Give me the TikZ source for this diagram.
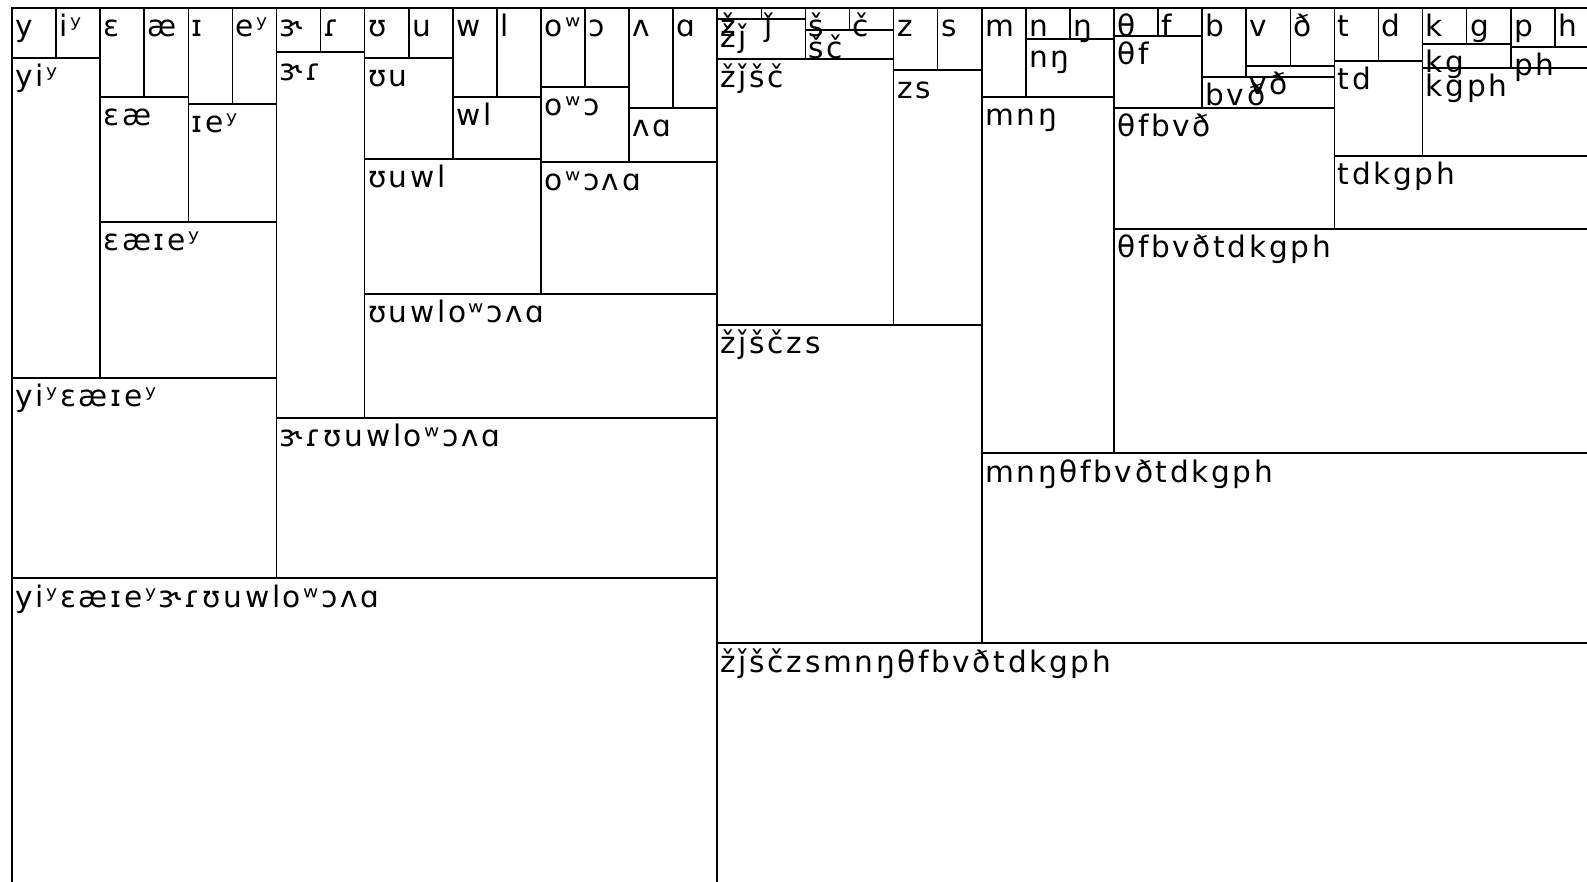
\documentclass[tikz,border=0pt]{standalone}
\usepackage{fontspec}
\newfontfamily\ipafont[LetterSpace=9]{DejaVu Sans}
\newcommand\dendbox[6]{%
  \draw[boxline] ({12+44.08*#2},#4) rectangle ({12+44.08*#3},#5);
  \node[lbl] (#1) at ({15+44.08*#2},#4+29) {#6};
}
\begin{document}
\begin{tikzpicture}[x=0.5pt,y=-0.5pt,
  boxline/.style={line width=0.8pt, black},
  lbl/.style={anchor=base west, inner sep=0pt, font=\ipafont\fontsize{14.8}{16}\selectfont}]
\useasboundingbox (0,0) rectangle (1587,882);
\clip (0,0) rectangle (1587,882);
% leaves
\dendbox{l0}{0}{1}{8}{58}{y}
\dendbox{l1}{1}{2}{8}{58}{iʸ}
\dendbox{l2}{2}{3}{8}{97}{ɛ}
\dendbox{l3}{3}{4}{8}{97}{æ}
\dendbox{l4}{4}{5}{8}{104}{ɪ}
\dendbox{l5}{5}{6}{8}{104}{eʸ}
\dendbox{l6}{6}{7}{8}{52}{ɝ}
\dendbox{l7}{7}{8}{8}{52}{ɾ}
\dendbox{l8}{8}{9}{8}{58}{ʊ}
\dendbox{l9}{9}{10}{8}{58}{u}
\dendbox{l10}{10}{11}{8}{97}{w}
\dendbox{l11}{11}{12}{8}{97}{l}
\dendbox{l12}{12}{13}{8}{87}{oʷ}
\dendbox{l13}{13}{14}{8}{87}{ɔ}
\dendbox{l14}{14}{15}{8}{108}{ʌ}
\dendbox{l15}{15}{16}{8}{108}{ɑ}
\dendbox{l16}{16}{17}{8}{19}{ž}
\dendbox{l17}{17}{18}{8}{19}{ǰ}
\dendbox{l18}{18}{19}{8}{30}{š}
\dendbox{l19}{19}{20}{8}{30}{č}
\dendbox{l20}{20}{21}{8}{70}{z}
\dendbox{l21}{21}{22}{8}{70}{s}
\dendbox{l22}{22}{23}{8}{97}{m}
\dendbox{l23}{23}{24}{8}{39}{n}
\dendbox{l24}{24}{25}{8}{39}{ŋ}
\dendbox{l25}{25}{26}{8}{36}{θ}
\dendbox{l26}{26}{27}{8}{36}{f}
\dendbox{l27}{27}{28}{8}{77}{b}
\dendbox{l28}{28}{29}{8}{66}{v}
\dendbox{l29}{29}{30}{8}{66}{ð}
\dendbox{l30}{30}{31}{8}{61}{t}
\dendbox{l31}{31}{32}{8}{61}{d}
\dendbox{l32}{32}{33}{8}{44}{k}
\dendbox{l33}{33}{34}{8}{44}{g}
\dendbox{l34}{34}{35}{8}{47}{p}
\dendbox{l35}{35}{36}{8}{47}{h}
% left half
\dendbox{a1}{0}{2}{58}{378}{yiʸ}
\dendbox{a2}{2}{4}{97}{222}{ɛæ}
\dendbox{a3}{4}{6}{104}{222}{ɪeʸ}
\dendbox{a4}{2}{6}{222}{378}{ɛæɪeʸ}
\dendbox{a5}{0}{6}{378}{578}{yiʸɛæɪeʸ}
\dendbox{b1}{6}{8}{52}{418}{ɝɾ}
\dendbox{b2}{8}{10}{58}{159}{ʊu}
\dendbox{b3}{10}{12}{97}{159}{wl}
\dendbox{b4}{8}{12}{159}{294}{ʊuwl}
\dendbox{b5}{12}{14}{87}{162}{oʷɔ}
\dendbox{b6}{14}{16}{108}{162}{ʌɑ}
\dendbox{b7}{12}{16}{162}{294}{oʷɔʌɑ}
\dendbox{b8}{8}{16}{294}{418}{ʊuwloʷɔʌɑ}
\dendbox{b9}{6}{16}{418}{578}{ɝɾʊuwloʷɔʌɑ}
\dendbox{lroot}{0}{16}{578}{900}{yiʸɛæɪeʸɝɾʊuwloʷɔʌɑ}
% right half
\dendbox{c1}{16}{18}{19}{59}{žǰ}
\dendbox{c2}{18}{20}{30}{59}{šč}
\dendbox{c3}{16}{20}{59}{325}{žǰšč}
\dendbox{c4}{20}{22}{70}{325}{zs}
\dendbox{c5}{16}{22}{325}{643}{žǰščzs}
\dendbox{d1}{23}{25}{39}{97}{nŋ}
\dendbox{d2}{22}{25}{97}{453}{mnŋ}
\dendbox{e1}{25}{27}{36}{108}{θf}
\dendbox{e2}{28}{30}{66}{77}{vð}
\dendbox{e3}{27}{30}{77}{108}{bvð}
\dendbox{e4}{25}{30}{108}{229}{θfbvð}
\dendbox{f1}{30}{32}{61}{156}{td}
\dendbox{f2}{32}{34}{44}{68}{kg}
\dendbox{f3}{34}{36}{47}{68}{ph}
\dendbox{f4}{32}{36}{68}{156}{kgph}
\dendbox{f5}{30}{36}{156}{229}{tdkgph}
\dendbox{g1}{25}{36}{229}{453}{θfbvðtdkgph}
\dendbox{g2}{22}{36}{453}{643}{mnŋθfbvðtdkgph}
\dendbox{rroot}{16}{36}{643}{900}{žǰščzsmnŋθfbvðtdkgph}
\end{tikzpicture}
\end{document}
